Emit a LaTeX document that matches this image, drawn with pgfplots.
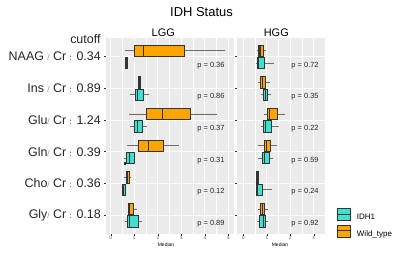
\documentclass[border=0pt]{standalone}
\usepackage{fontspec}
\setmainfont{Liberation Sans}
\usepackage{pgfplots}
\pgfplotsset{compat=1.18}
\usepgfplotslibrary{statistics}
\definecolor{wtcol}{HTML}{FFA500}
\definecolor{idhcol}{HTML}{40E0D0}
\definecolor{boxline}{HTML}{333333}
\definecolor{whisk}{HTML}{6E6E6E}
\definecolor{panel}{HTML}{EBEBEB}
\definecolor{ticktext}{HTML}{4D4D4D}
\definecolor{slashc}{HTML}{8C8C8C}
\newcommand{\fs}[1]{\fontsize{#1}{#1}\selectfont}
\newcommand{\sep}{{\fs{8}\textcolor{slashc}{/}}}
\newcommand{\col}{{\fs{8}:}}
\pgfplotsset{
  panelstyle/.style={
    scale only axis,
    height=196.3bp,
    ymin=0.4, ymax=6.6,
    ytick={1,...,6},
    axis background/.style={fill=panel},
    axis line style={draw=none},
    tick align=outside,
    xtick pos=bottom, ytick pos=left,
    major tick length=2bp,
    minor tick length=0pt,
    major tick style={boxline, line width=0.4bp},
    xmajorgrids, ymajorgrids, xminorgrids,
    minor x tick num=1,
    major grid style={white, line width=0.8bp},
    minor grid style={white, line width=0.4bp},
    xticklabel style={font=\fs{4.5}, text=ticktext, inner sep=0.5bp},
    /pgf/number format/assume math mode=true,
  },
  bx/.style={draw=boxline, line width=0.5bp, solid, forget plot,
    boxplot/box extend=0.36, boxplot/whisker extend=0,
    boxplot/every whisker/.style={draw=whisk, line width=0.5bp},
    boxplot/every median/.style={line width=1.1bp}},
  wt/.style={bx, fill=wtcol},
  idh/.style={bx, fill=idhcol},
}
\begin{document}
\begin{tikzpicture}
\path[use as bounding box] (0,0) rectangle (400bp,253bp);
% ---------------- LGG ----------------
\begin{axis}[panelstyle, at={(106bp,19bp)}, anchor=south west, width=128bp,
  xmin=-0.2, xmax=5.24, xtick={0,1,2,3,4,5},
  yticklabels={Gly\sep{} Cr \col{} 0.18, Cho\sep{} Cr \col{} 0.36, Gln\sep{} Cr \col{} 0.39, Glu\sep{} Cr \col{} 1.24, Ins \sep{} Cr \col{} 0.89, NAAG \sep{} Cr \col{} 0.34},
  yticklabel style={font=\fs{12.5}, text=black!85, inner sep=0pt, xshift=-3bp}]
% NAAG
\addplot[wt, boxplot prepared={draw position=6.195, lower whisker=0.60, lower quartile=1.00, median=1.38, upper quartile=3.12, upper whisker=4.87}] coordinates {};
\addplot[idh, boxplot prepared={draw position=5.805, lower whisker=0.61, lower quartile=0.61, median=0.66, upper quartile=0.71, upper whisker=0.71}] coordinates {};
% Ins
\addplot[wt, boxplot prepared={draw position=5.195, lower whisker=1.15, lower quartile=1.16, median=1.21, upper quartile=1.24, upper whisker=1.24}] coordinates {};
\addplot[idh, boxplot prepared={draw position=4.805, lower whisker=0.82, lower quartile=1.03, median=1.15, upper quartile=1.39, upper whisker=1.64}] coordinates {};
% Glu
\addplot[wt, boxplot prepared={draw position=4.195, lower whisker=0.78, lower quartile=1.49, median=2.19, upper quartile=3.36, upper whisker=4.51}] coordinates {};
\addplot[idh, boxplot prepared={draw position=3.805, lower whisker=0.82, lower quartile=1.00, median=1.15, upper quartile=1.36, upper whisker=1.53}] coordinates {};
% Gln
\addplot[wt, boxplot prepared={draw position=3.195, lower whisker=0.71, lower quartile=1.15, median=1.60, upper quartile=2.24, upper whisker=2.90}] coordinates {};
\addplot[idh, boxplot prepared={draw position=2.805, lower whisker=0.58, lower quartile=0.68, median=0.78, upper quartile=1.00, upper whisker=1.02}] coordinates {};
\addplot[only marks, mark=square*, mark size=0.8bp, boxline, forget plot] coordinates {(0.60,2.64)};
% Cho
\addplot[wt, boxplot prepared={draw position=2.195, lower whisker=0.57, lower quartile=0.65, median=0.72, upper quartile=0.79, upper whisker=0.86}] coordinates {};
\addplot[idh, boxplot prepared={draw position=1.805, lower whisker=0.50, lower quartile=0.51, median=0.56, upper quartile=0.61, upper whisker=0.62}] coordinates {};
% Gly
\addplot[wt, boxplot prepared={draw position=1.195, lower whisker=0.75, lower quartile=0.75, median=0.79, upper quartile=0.96, upper whisker=1.13}] coordinates {};
\addplot[idh, boxplot prepared={draw position=0.805, lower whisker=0.61, lower quartile=0.71, median=0.79, upper quartile=1.15, upper whisker=1.32}] coordinates {};
% p values
\begin{scope}[every node/.style={font=\fs{7.5}, text=black!85}]
\node at (axis cs:4.26,5.73) {p = 0.36};
\node at (axis cs:4.26,4.73) {p = 0.86};
\node at (axis cs:4.26,3.73) {p = 0.37};
\node at (axis cs:4.26,2.73) {p = 0.31};
\node at (axis cs:4.26,1.73) {p = 0.12};
\node at (axis cs:4.26,0.73) {p = 0.89};
\end{scope}
\end{axis}
% ---------------- HGG ----------------
\begin{axis}[panelstyle, at={(237.3bp,19bp)}, anchor=south west, width=87.7bp,
  xmin=-0.256, xmax=3.48, xtick={0,1,2,3}, yticklabels={},
  legend style={at={(1.133,0.131)}, anchor=north west, draw=none, fill=none,
    inner sep=0pt, outer sep=0pt, row sep=4.2bp, font=\fs{8},
    nodes={inner sep=0pt}, /tikz/every odd column/.append style={column sep=6bp}},
  legend cell align=left]
\addlegendimage{legend image code/.code={\draw[boxline, fill=idhcol, line width=0.5bp] (0bp,-2.9bp) rectangle (13.3bp,8.7bp); \draw[boxline, line width=1bp] (0bp,2.9bp) -- (13.3bp,2.9bp);}}
\addlegendentry{IDH1}
\addlegendimage{legend image code/.code={\draw[boxline, fill=wtcol, line width=0.5bp] (0bp,-2.9bp) rectangle (13.3bp,8.7bp); \draw[boxline, line width=1bp] (0bp,2.9bp) -- (13.3bp,2.9bp);}}
\addlegendentry{Wild\_type}
% NAAG
\addplot[wt, boxplot prepared={draw position=6.195, lower whisker=0.57, lower quartile=0.64, median=0.71, upper quartile=0.87, upper whisker=0.95}] coordinates {};
\addplot[idh, boxplot prepared={draw position=5.805, lower whisker=0.53, lower quartile=0.60, median=0.66, upper quartile=0.91, upper whisker=1.32}] coordinates {};
% Ins
\addplot[wt, boxplot prepared={draw position=5.195, lower whisker=0.64, lower quartile=0.71, median=0.82, upper quartile=0.95, upper whisker=1.14}] coordinates {};
\addplot[idh, boxplot prepared={draw position=4.805, lower whisker=0.75, lower quartile=0.85, median=0.94, upper quartile=1.04, upper whisker=1.16}] coordinates {};
% Glu
\addplot[wt, boxplot prepared={draw position=4.195, lower whisker=0.89, lower quartile=1.02, median=1.11, upper quartile=1.46, upper whisker=1.77}] coordinates {};
\addplot[idh, boxplot prepared={draw position=3.805, lower whisker=0.75, lower quartile=0.85, median=0.95, upper quartile=1.21, upper whisker=1.52}] coordinates {};
% Gln
\addplot[wt, boxplot prepared={draw position=3.195, lower whisker=0.64, lower quartile=0.88, median=0.97, upper quartile=1.16, upper whisker=1.42}] coordinates {};
\addplot[idh, boxplot prepared={draw position=2.805, lower whisker=0.64, lower quartile=0.80, median=0.89, upper quartile=1.12, upper whisker=1.28}] coordinates {};
% Cho
\addplot[wt, boxplot prepared={draw position=2.195, lower whisker=0.57, lower quartile=0.57, median=0.60, upper quartile=0.63, upper whisker=0.63}] coordinates {};
\addplot[idh, boxplot prepared={draw position=1.805, lower whisker=0.54, lower quartile=0.54, median=0.60, upper quartile=0.81, upper whisker=1.21}] coordinates {};
% Gly
\addplot[wt, boxplot prepared={draw position=1.195, lower whisker=0.64, lower quartile=0.74, median=0.81, upper quartile=0.89, upper whisker=1.04}] coordinates {};
\addplot[idh, boxplot prepared={draw position=0.805, lower whisker=0.60, lower quartile=0.68, median=0.85, upper quartile=0.92, upper whisker=1.06}] coordinates {};
\begin{scope}[every node/.style={font=\fs{7.5}, text=black!85}]
\node at (axis cs:2.63,5.73) {p = 0.72};
\node at (axis cs:2.63,4.73) {p = 0.35};
\node at (axis cs:2.63,3.73) {p = 0.22};
\node at (axis cs:2.63,2.73) {p = 0.59};
\node at (axis cs:2.63,1.73) {p = 0.24};
\node at (axis cs:2.63,0.73) {p = 0.92};
\end{scope}
\end{axis}
% ---------------- texts ----------------
\node[anchor=base, font=\fs{13}] at (201.5bp,236.3bp) {IDH Status};
\node[anchor=base, font=\fs{11}] at (163.3bp,216.3bp) {LGG};
\node[anchor=base, font=\fs{11}] at (276.3bp,216.3bp) {HGG};
\node[anchor=base east, font=\fs{12.5}, inner sep=0pt, text=black!85] at (100.7bp,209bp) {cutoff};
\node[anchor=base, font=\fs{5}, inner sep=0pt] at (166bp,7bp) {Median};
\node[anchor=base, font=\fs{5}, inner sep=0pt] at (280bp,7bp) {Median};
\end{tikzpicture}
\end{document}
